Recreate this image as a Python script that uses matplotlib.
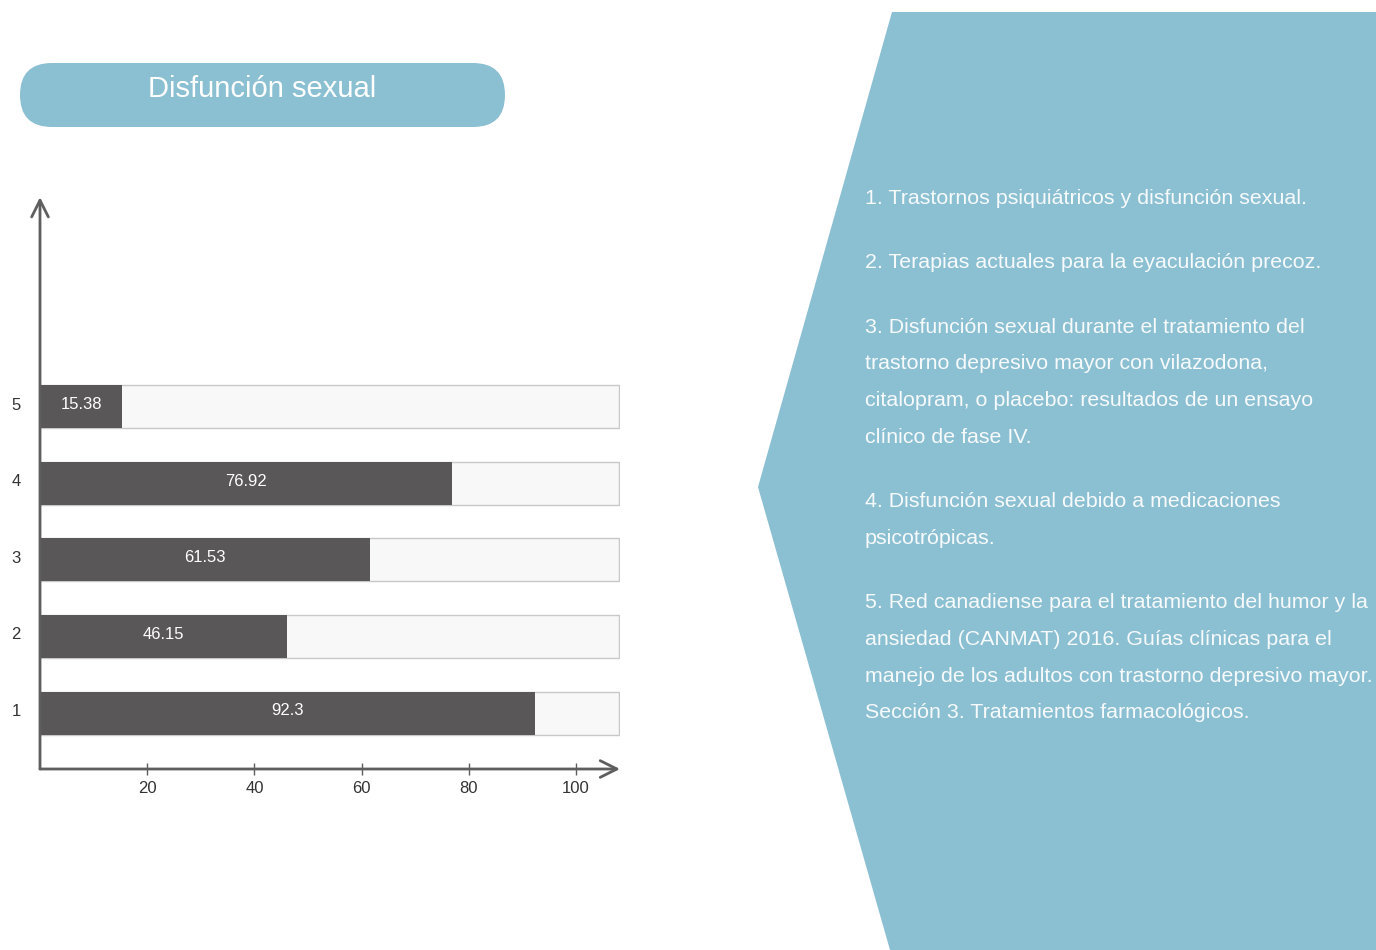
import matplotlib.pyplot as plt
from matplotlib.patches import Polygon, FancyBboxPatch

plt.rcParams['font.family'] = ['Liberation Sans', 'DejaVu Sans']

categories = ['1', '2', '3', '4', '5']
values = [92.3, 46.15, 61.53, 76.92, 15.38]
full = 108
xticks = [20, 40, 60, 80, 100]
title = 'Disfunción sexual'
refs = [
    ['1. Trastornos psiquiátricos y disfunción sexual.'],
    ['2. Terapias actuales para la eyaculación precoz.'],
    ['3. Disfunción sexual durante el tratamiento del',
     'trastorno depresivo mayor con vilazodona,',
     'citalopram, o placebo: resultados de un ensayo',
     'clínico de fase IV.'],
    ['4. Disfunción sexual debido a medicaciones',
     'psicotrópicas.'],
    ['5. Red canadiense para el tratamiento del humor y la',
     'ansiedad (CANMAT) 2016. Guías clínicas para el',
     'manejo de los adultos con trastorno depresivo mayor.',
     'Sección 3. Tratamientos farmacológicos.'],
]

blue = '#8bbfd2'
dark = '#595758'
axis_col = '#5e5e5e'

fig = plt.figure(figsize=(13.76, 9.5), dpi=100)

# background layer in pixel coordinates
bg = fig.add_axes([0, 0, 1, 1])
bg.set_xlim(0, 1376)
bg.set_ylim(950, 0)
bg.axis('off')

bg.add_patch(Polygon([(892, 12), (1376, 12), (1376, 950), (890, 950), (758, 487)],
                     closed=True, facecolor=blue, edgecolor='none'))
bg.add_patch(FancyBboxPatch((20, 63), 485, 64, boxstyle='round,pad=0,rounding_size=32',
                            facecolor=blue, edgecolor='none'))
bg.text(262, 89, title, color='white', fontsize=21, ha='center', va='center')

y = 198
for para in refs:
    for line in para:
        bg.text(865, y, line, color='#f7fafb', fontsize=15.4, ha='left', va='center')
        y += 36.6
    y += 28

# chart
ax = fig.add_axes([40 / 1376, 1 - 769 / 950, 580 / 1376, (769 - 200) / 950])
ax.set_xlim(0, full * 580 / 579)
ax.set_ylim(0.27, 7.7)
for s in ax.spines.values():
    s.set_visible(False)
ax.patch.set_alpha(0)

pos = range(1, len(categories) + 1)
ax.barh(pos, [full] * len(values), height=0.56, color='#f8f8f8', edgecolor='#c8c8c8', linewidth=1)
ax.barh(pos, values, height=0.56, color=dark, edgecolor='none')
for p, v in zip(pos, values):
    ax.text(v / 2, p + 0.03, '%g' % v, color='white', fontsize=12, ha='center', va='center')

ax.annotate('', xy=(1.0, 0), xytext=(0, 0), xycoords='axes fraction',
            arrowprops=dict(arrowstyle='->,head_length=1.2,head_width=0.6', color=axis_col, lw=2,
                            shrinkA=0, shrinkB=0))
ax.annotate('', xy=(0, 1.005), xytext=(0, 0), xycoords='axes fraction',
            arrowprops=dict(arrowstyle='->,head_length=1.2,head_width=0.6', color=axis_col, lw=2,
                            shrinkA=0, shrinkB=0))

ax.set_xticks(xticks)
ax.set_yticks([p + 0.04 for p in pos])
ax.set_yticklabels(categories)
ax.tick_params(axis='x', direction='inout', length=9, width=1, color=axis_col,
               labelsize=12, labelcolor='#333333', pad=4)
ax.tick_params(axis='y', length=0, labelsize=12, labelcolor='#333333', pad=14)

fig.savefig('out.png', dpi=100)
